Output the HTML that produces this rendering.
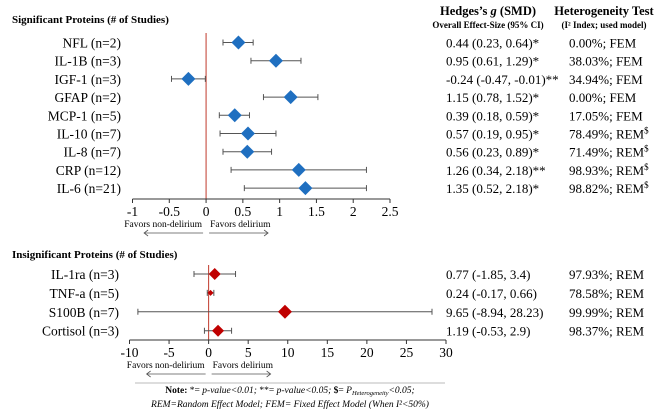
<!DOCTYPE html>
<html><head><meta charset="utf-8"><style>
body{margin:0;background:#fff;}
svg{display:block;font-family:"Liberation Serif",serif;}
</style></head><body>
<svg id="chart" width="669" height="416" viewBox="0 0 669 416">
<text x="12" y="23" font-size="11" font-weight="bold">Significant Proteins (# of Studies)</text>
<text x="12" y="258" font-size="11" font-weight="bold">Insignificant Proteins (# of Studies)</text>
<text x="488" y="15" font-size="12.5" font-weight="bold" text-anchor="middle">Hedges’s <tspan font-style="italic">g</tspan> (SMD)</text>
<text x="488" y="28" font-size="9" font-weight="bold" text-anchor="middle">Overall Effect-Size (95% CI)</text>
<text x="604" y="15" font-size="12.5" font-weight="bold" text-anchor="middle">Heterogeneity Test</text>
<text x="604" y="28" font-size="9" font-weight="bold" text-anchor="middle">(I² Index; used model)</text>
<g id="top"></g>
<g id="bot"></g>
<line x1="135" y1="383" x2="445" y2="383" stroke="#bbb" stroke-width="1"/>
<text x="290" y="393" font-size="9.5" text-anchor="middle"><tspan font-weight="bold">Note: </tspan>*= <tspan font-style="italic">p-value&lt;0.01;</tspan>  **= <tspan font-style="italic">p-value&lt;0.05;</tspan>  <tspan font-weight="bold">$</tspan>= <tspan font-style="italic">P<tspan font-size="6.5" dy="2">Heterogeneity</tspan><tspan dy="-2">&lt;0.05;</tspan></tspan></text>
<text x="290" y="407" font-size="9.5" font-style="italic" text-anchor="middle">REM=Random Effect Model;  FEM= Fixed Effect Model (When I²&lt;50%)</text>
</svg>
<script>
const sigLabels=["NFL (n=2)","IL-1B (n=3)","IGF-1 (n=3)","GFAP (n=2)","MCP-1 (n=5)","IL-10 (n=7)","IL-8 (n=7)","CRP (n=12)","IL-6 (n=21)"];
const sigEst=[0.44,0.95,-0.24,1.15,0.39,0.57,0.56,1.26,1.35];
const sigLo=[0.23,0.61,-0.47,0.78,0.18,0.19,0.23,0.34,0.52];
const sigHi=[0.64,1.29,-0.01,1.52,0.59,0.95,0.89,2.18,2.18];
const sigEffText=["0.44 (0.23, 0.64)*","0.95 (0.61, 1.29)*","-0.24 (-0.47, -0.01)**","1.15 (0.78, 1.52)*","0.39 (0.18, 0.59)*","0.57 (0.19, 0.95)*","0.56 (0.23, 0.89)*","1.26 (0.34, 2.18)**","1.35 (0.52, 2.18)*"];
const sigHetText=["0.00%; FEM","38.03%; FEM","34.94%; FEM","0.00%; FEM","17.05%; FEM","78.49%; REM","71.49%; REM","98.93%; REM","98.82%; REM"];
const sigDollar=[false,false,false,false,false,true,true,true,true];
const sigTicks=[-1,-0.5,0,0.5,1,1.5,2,2.5];
const insLabels=["IL-1ra (n=3)","TNF-a (n=5)","S100B (n=7)","Cortisol (n=3)"];
const insEst=[0.77,0.24,9.65,1.19];
const insLo=[-1.85,-0.17,-8.94,-0.53];
const insHi=[3.4,0.66,28.23,2.9];
const insEffText=["0.77 (-1.85, 3.4)","0.24 (-0.17, 0.66)","9.65 (-8.94, 28.23)","1.19 (-0.53, 2.9)"];
const insHetText=["97.93%; REM","78.58%; REM","99.99%; REM","98.37%; REM"];
const insDollar=[false,false,false,false];
const insTicks=[-10,-5,0,5,10,15,20,25,30];
const NS="http://www.w3.org/2000/svg";
function mk(p,t,a,txt){const e=document.createElementNS(NS,t);for(const k in a)e.setAttribute(k,a[k]);if(txt!=null)e.textContent=txt;p.appendChild(e);return e;}
function panel(g,o){
  const x=v=>o.x0+(v-o.min)/(o.max-o.min)*(o.x1-o.x0);
  const y=i=>o.y0+i*o.dy;
  const zl=mk(g,"line",{x1:x(0),x2:x(0),y1:o.lineTop,y2:o.axisY,stroke:"#c0392b","stroke-width":1});
  
  const ax=mk(g,"line",{x1:x(o.min),x2:x(o.max),y1:o.axisY,y2:o.axisY,stroke:"#333","stroke-width":1});
  
  o.ticks.forEach(t=>{
    const tl=mk(g,"line",{x1:x(t),x2:x(t),y1:o.axisY,y2:o.axisY+4,stroke:"#333"});
    
    const tt=mk(g,"text",{x:x(t),y:o.axisY+17,"font-size":13.5,"text-anchor":"middle"},String(t));
    
  });
  const f1=mk(g,"text",{x:x(0)-4,y:o.axisY+28,"font-size":9.5,"text-anchor":"end"},"Favors non-delirium");
  
  const f2=mk(g,"text",{x:x(0)+4,y:o.axisY+28,"font-size":9.5},"Favors delirium");
  
  const ay=o.axisY+34;
  const a1=mk(g,"path",{d:`M${x(0)-3},${ay}H${x(0)-62}m4,-3l-4,3l4,3`,stroke:"#555",fill:"none","stroke-width":0.8});
  
  const a2=mk(g,"path",{d:`M${x(0)+3},${ay}H${x(0)+62}m-4,-3l4,3l-4,3`,stroke:"#555",fill:"none","stroke-width":0.8});
  
  o.labels.forEach((lab,i)=>{
    const yy=y(i);
    const l=mk(g,"text",{x:o.labelX,y:yy+5,"font-size":13.5,"text-anchor":"end"},lab);
    
    const ci=mk(g,"path",{d:`M${x(o.lo[i])},${yy}H${x(o.hi[i])}M${x(o.lo[i])},${yy-3}v6M${x(o.hi[i])},${yy-3}v6`,stroke:"#555","stroke-width":1,fill:"none"});
    
    const s=o.size[i],cx=x(o.est[i]);
    const d=mk(g,"path",{d:`M${cx},${yy-s}L${cx+s},${yy}L${cx},${yy+s}L${cx-s},${yy}Z`,fill:o.color});
    
    const et=mk(g,"text",{x:446,y:yy+5,"font-size":13},o.eff[i]);
    
    const ht=mk(g,"text",{x:569,y:yy+5,"font-size":13},o.het[i]);
    
    if(o.dollar[i]){mk(ht,"tspan",{"font-size":9,dy:-5},"$");}
  });
}
panel(document.getElementById("top"),{min:-1,max:2.5,x0:132.5,x1:390,y0:42.5,dy:18.2,axisY:199,lineTop:33,ticks:sigTicks,labels:sigLabels,est:sigEst,lo:sigLo,hi:sigHi,eff:sigEffText,het:sigHetText,dollar:sigDollar,labelX:121,color:"#1f6fc0",size:sigLabels.map(()=>7)});
panel(document.getElementById("bot"),{min:-10,max:30,x0:129.5,x1:446,y0:274,dy:18.9,axisY:340,lineTop:265,ticks:insTicks,labels:insLabels,est:insEst,lo:insLo,hi:insHi,eff:insEffText,het:insHetText,dollar:insDollar,labelX:119,color:"#c00000",size:[6,3,7,6]});
</script>
</body></html>
